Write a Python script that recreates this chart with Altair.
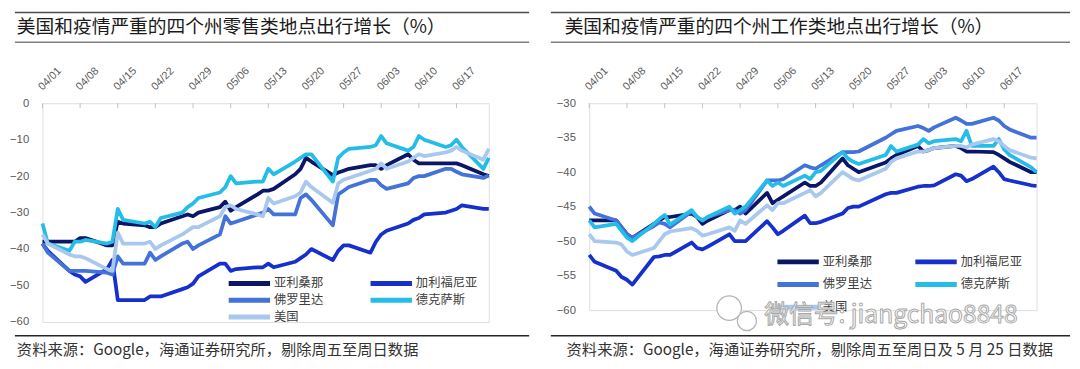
import altair as alt
import pandas as pd

series = ["亚利桑那", "加利福尼亚", "佛罗里达", "德克萨斯", "美国"]
colors = ["#0b1766", "#1630cc", "#4372d9", "#24bde8", "#a9c8ee"]

dates = ["04/01", "04/02",
         "04/06", "04/07", "04/08", "04/09",
         "04/13", "04/14", "04/15", "04/16",
         "04/20", "04/21", "04/22", "04/23",
         "04/27", "04/28", "04/29", "04/30",
         "05/04", "05/05", "05/06", "05/07",
         "05/11", "05/12", "05/13", "05/14",
         "05/18", "05/19", "05/20", "05/21",
         "05/25", "05/26", "05/27", "05/28",
         "06/01", "06/02", "06/03", "06/04",
         "06/08", "06/09", "06/10", "06/11",
         "06/15", "06/16", "06/17", "06/18",
         "06/22", "06/23"]
tick_dates = ["04/01", "04/08", "04/15", "04/22", "04/29", "05/06",
              "05/13", "05/20", "05/27", "06/03", "06/10", "06/17"]

# 零售类地点 (all days Mon-Thu)
retail_az = [-38, -38, -38, -38, -37, -37, -39, -39, -32.5, -33, -33.5, -34, -34, -33,
             -31, -30.5, -31, -30, -28.5, -27, -29.5, -28.5, -25, -24, -24, -23.5,
             -19.5, -18, -15, -16, -19.7, -19, -18.5, -18, -17, -17, -18, -17,
             -14, -15.5, -16.5, -16.5, -16.5, -16.5, -16.5, -17, -19.5, -20]
retail_ca = [-38.5, -40.5, -46, -47, -47.5, -49, -45.5, -43, -54, -54, -54, -53, -53, -53,
             -51, -50.5, -49.5, -47.5, -44, -44, -46, -45.5, -45, -45, -44, -45,
             -43.5, -42.5, -41.5, -40, -43, -40.5, -39, -39, -41, -38, -36, -35,
             -33, -32, -31.5, -30.5, -30, -29.5, -29, -28, -29, -29]
retail_fl = [-38.5, -41, -46, -46, -46, -46, -46.5, -47, -42, -44, -44, -41, -43, -42,
             -38.5, -38, -40, -39, -36, -31, -33, -32.5, -30.5, -30, -29, -30.5,
             -30.5, -26, -25, -26.5, -33.5, -25, -24, -23, -21, -21, -22.5, -23.5,
             -22, -20.5, -20, -20, -18, -18, -18.8, -19.5, -20.5, -19.8]
retail_tx = [-33, -38.5, -40.5, -38, -38, -37.5, -38.5, -38, -29, -32, -33, -32.5, -34, -31.5,
             -30, -28.5, -27.5, -26, -24.5, -23, -20, -22, -21.5, -21.5, -18, -19.5,
             -16, -15, -14, -14, -21.5, -15, -13.5, -12.5, -12, -11.5, -9, -11,
             -13, -12, -9, -10, -12, -11.5, -10, -12, -18, -15]
retail_us = [-36, -38.5, -41.5, -42, -42, -42.5, -45.5, -46, -35.5, -38.5, -38.5, -38, -40, -39,
             -36, -35, -34, -34, -31, -28.5, -28, -29, -30.5, -31, -26, -27.5,
             -25.5, -24.5, -21.5, -23, -27.3, -22, -21, -20.5, -18.5, -18, -16.5, -18,
             -16, -15, -14, -14.5, -13.5, -13, -12, -13, -15.5, -12.5]

# 工作类地点 (5/25 excluded)
work_dates = [d for d in dates if d != "05/25"]
work_az = [-47, -47, -47, -48, -49, -49.5, -47.5, -47, -46.5, -46.5, -46, -46.5, -47.5, -47,
           -45.5, -45.5, -45, -46, -43, -44.5, -44, -43.5, -41.5, -42, -42, -41.5,
           -38, -39, -39.5, -40, -38.6, -38, -37.5, -36.2, -37, -36.8, -36.5,
           -36.2, -36.5, -37, -37, -37.1, -37.5, -38, -38.5, -40, -40]
work_ca = [-52, -53, -54.3, -55.2, -55.6, -56.3, -52.3, -52.2, -52, -52, -50.2, -51, -51.2, -50.8,
           -49, -50, -50, -50, -47.1, -48, -49, -48.5, -46.3, -47.4, -47.4, -47.2,
           -46, -45.2, -45, -45, -43.2, -43, -43, -42.1, -42, -42, -41.9,
           -40.3, -40.5, -41.3, -41, -39.2, -40, -41, -41.2, -41.9, -42]
work_fl = [-45, -46, -47, -48, -49, -49.5, -47.8, -47.3, -47.5, -48, -45.7, -46.5, -47, -46.5,
           -45.5, -45.5, -46, -45.5, -41.2, -41.2, -41.2, -41, -39, -39.3, -39.5, -39,
           -37.1, -37.1, -37.1, -37, -35, -34.5, -34, -33.3, -33.6, -34, -33.5,
           -32.1, -32.5, -33, -33, -32.1, -32.5, -33.3, -33.8, -35, -35]
work_tx = [-47, -48, -47.5, -48.5, -49.5, -50, -47.5, -46.8, -46.2, -47.6, -45.5, -46.5, -47, -46.5,
           -45, -46, -45.5, -45, -41.2, -42, -41.5, -42, -40.5, -41, -40, -39.8,
           -37.1, -38, -38.5, -38.8, -37.5, -36.2, -37, -36, -35.2, -35.8, -35.5,
           -35.2, -35.5, -34, -36.2, -36.2, -35.2, -36.7, -37.5, -39.3, -40]
work_us = [-49, -50, -50.2, -50.5, -51.5, -52, -51, -50, -49, -48.6, -48.1, -48.5, -49.2, -49,
           -48, -48.5, -47, -47.5, -44.8, -45.5, -44.5, -44.5, -43, -42.6, -43.5, -43,
           -40, -40.5, -41, -41.2, -39.5, -38.5, -38, -37, -37, -36.8, -36.5,
           -36.2, -36.2, -36.4, -36, -35.2, -35.5, -36.2, -36.8, -37.9, -38]

CJK = "Noto Sans CJK SC"
LAT = "Liberation Sans"
START = pd.Timestamp("2020-04-01")


def day_offsets(ds):
    return [(pd.Timestamp("2020-" + d.replace("/", "-")) - START).days for d in ds]


def long_df(ds, cols):
    days = day_offsets(ds)
    rows = []
    for name, vals in zip(series, cols):
        for d, lab, v in zip(days, ds, vals):
            rows.append({"series": name, "day": d, "date": lab, "value": v})
    return pd.DataFrame(rows)


tick_days = day_offsets(tick_dates)
last_day = day_offsets(dates)[-1]
color_scale = alt.Scale(domain=series, range=colors)
one = pd.DataFrame({"a": [0]})


def hrule(x0, x1, y, color, sw):
    return alt.Chart(one).mark_rule(color=color, strokeWidth=sw).encode(
        x=alt.value(x0), x2=alt.value(x1), y=alt.value(y))


def text_at(txt, x, y, size, color, font=CJK, **kw):
    return alt.Chart(pd.DataFrame({"t": [txt]})).mark_text(
        align="left", baseline="middle", font=font, fontSize=size, color=color, **kw
    ).encode(x=alt.value(x), y=alt.value(y), text="t:N")


def panel(df, ydom, yvals, w, h, title, source, c1, c2, rows, rx0, rx1, tx, sx, extra=()):
    xsc = alt.Scale(domain=[0, last_day], nice=False, zero=False)
    x_axis = alt.Axis(orient="top", values=tick_days, labels=False,
                      ticks=False, tickSize=0, domainColor="#d9d9d9", domainWidth=1.5,
                      grid=False, title=None)
    y_axis = alt.Axis(values=yvals, domain=False, ticks=False, grid=False, labelPadding=14,
                      labelFont=LAT, labelFontSize=11.5, labelColor="#595959", title=None)
    lines = alt.Chart(df).mark_line(strokeWidth=3.8, strokeJoin="round").encode(
        x=alt.X("day:Q", scale=xsc, axis=x_axis),
        y=alt.Y("value:Q", scale=alt.Scale(domain=ydom, nice=False, zero=False), axis=y_axis),
        color=alt.Color("series:N", scale=color_scale, legend=None),
        order="day:Q",
    )
    tick_df = pd.DataFrame({"day": tick_days, "lab": tick_dates})
    ticks = alt.Chart(tick_df).mark_rule(color="#c0c0c0", strokeWidth=1).encode(
        x=alt.X("day:Q", scale=xsc, axis=None), y=alt.value(0), y2=alt.value(5))
    tick_labels = alt.Chart(tick_df).mark_text(
        angle=315, align="left", baseline="middle", font=LAT, fontSize=11, dx=-3,
        color="#595959").encode(
        x=alt.X("day:Q", scale=xsc, axis=None), y=alt.value(-17), text="lab:N")

    leg = alt.Chart(pd.DataFrame({"series": series, "k": list(range(len(series)))})).transform_calculate(
        lx="datum.k %% 2 == 0 ? %d : %d" % (c1, c2),
        ly="[%d,%d,%d][floor(datum.k/2)]" % tuple(rows),
    ).transform_calculate(lx2="datum.lx + 42", tx="datum.lx + 46")
    leg_sym = leg.mark_rule(strokeWidth=5).encode(
        x=alt.X("lx:Q", scale=None, axis=None), x2="lx2:Q",
        y=alt.Y("ly:Q", scale=None, axis=None),
        color=alt.Color("series:N", scale=color_scale, legend=None))
    leg_txt = leg.mark_text(align="left", baseline="middle", font=CJK, fontSize=12.5,
                            color="#404040").encode(
        x=alt.X("tx:Q", scale=None, axis=None), y=alt.Y("ly:Q", scale=None, axis=None),
        text="series:N")

    layers = [lines, ticks, tick_labels, leg_sym, leg_txt,
              hrule(rx0, rx1, -92, "#4d4d4d", 1.5),
              hrule(rx0, rx1, -62, "#7f7f7f", 1.5),
              hrule(rx0, rx1, 236, "#262626", 1.5),
              text_at(title, tx, -77, 19, "#1a1a1a"),
              text_at(source, sx, 251, 15.5, "#333333")]
    layers += list(extra)
    return alt.layer(*layers).properties(width=w, height=h)


left = panel(long_df(dates, [retail_az, retail_ca, retail_fl, retail_tx, retail_us]),
             [-60, 0], [0, -10, -20, -30, -40, -50, -60], 453, 222,
             "美国和疫情严重的四个州零售类地点出行增长（%）",
             "资料来源：Google，海通证券研究所，剔除周五至周日数据",
             189, 333, [183, 200, 217], -28, 494, -26, -26)

icon = alt.Chart(pd.DataFrame({"a": [0]}))
watermark = [
    icon.mark_point(shape="circle", size=620, fill="white", fillOpacity=1, stroke="#b5b5b5",
                    strokeWidth=1.3, opacity=1).encode(x=alt.value(142), y=alt.value(208)),
    icon.mark_point(shape="circle", size=380, fill="white", fillOpacity=1, stroke="#b5b5b5",
                    strokeWidth=1.3, opacity=1).encode(x=alt.value(160), y=alt.value(221)),
    text_at("微信号: jiangchao8848", 178, 215, 25, "white", stroke="#a8a8a8", strokeWidth=1),
]

right = panel(long_df(work_dates, [work_az, work_ca, work_fl, work_tx, work_us]),
              [-60, -30], [-30, -35, -40, -45, -50, -55, -60], 454, 210,
              "美国和疫情严重的四个州工作类地点出行增长（%）",
              "资料来源：Google，海通证券研究所，剔除周五至周日及 5 月 25 日数据",
              191, 331, [161, 184, 207], -39, 488, -25, -23, extra=watermark)

chart = alt.hconcat(left, right, spacing=18).properties(padding=0).configure_view(
    stroke=None).configure(background="white")

chart.save("out.html", embed_options={"renderer": "svg", "actions": False})
